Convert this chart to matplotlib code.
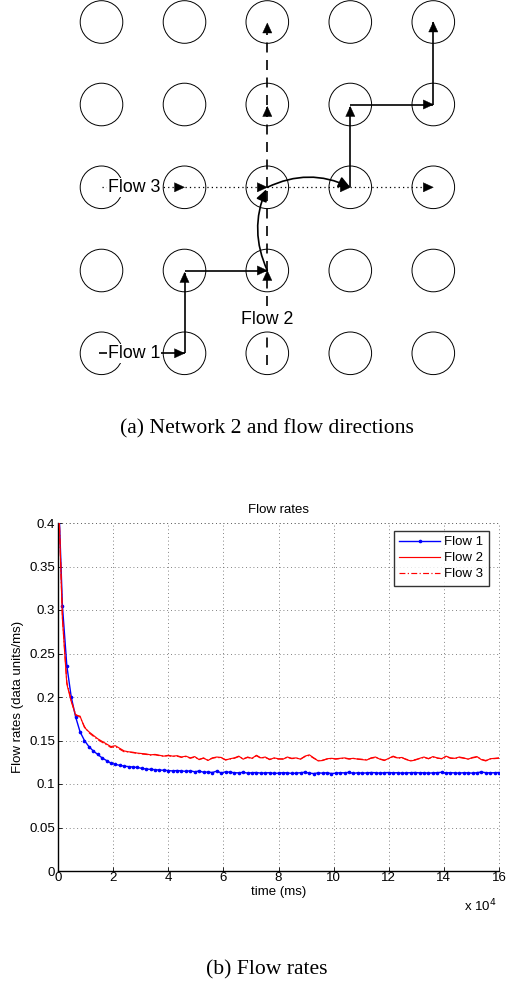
import numpy as np
import matplotlib
matplotlib.use("Agg")
import matplotlib.pyplot as plt
from matplotlib.patches import Circle, Polygon

# ---------------- data ----------------
time_ms = np.arange(0, 160001, 1600)

flow1 = [0.450, 0.305, 0.236, 0.200, 0.177, 0.160, 0.150, 0.143, 0.138, 0.134,
         0.130, 0.127, 0.124, 0.1225, 0.1215, 0.1205, 0.1200, 0.1195, 0.1190, 0.1180,
         0.1172, 0.1168, 0.1165, 0.1160, 0.1158, 0.1155, 0.1150, 0.1155, 0.1150, 0.1145,
         0.1152, 0.1140, 0.1150, 0.1135, 0.1138, 0.1132, 0.1148, 0.1128, 0.1140, 0.1135,
         0.1130, 0.1128, 0.1135, 0.1125, 0.1130, 0.1132, 0.1125, 0.1128, 0.1130, 0.1122,
         0.1125, 0.1130, 0.1128, 0.1122, 0.1125, 0.1130, 0.1135, 0.1125, 0.1120, 0.1128,
         0.1125, 0.1130, 0.1120, 0.1125, 0.1130, 0.1128, 0.1135, 0.1122, 0.1130, 0.1125,
         0.1128, 0.1132, 0.1130, 0.1125, 0.1130, 0.1132, 0.1128, 0.1130, 0.1125, 0.1128,
         0.1130, 0.1132, 0.1128, 0.1130, 0.1125, 0.1128, 0.1130, 0.1135, 0.1128, 0.1130,
         0.1128, 0.1125, 0.1130, 0.1128, 0.1125, 0.1130, 0.1138, 0.1130, 0.1128, 0.1130,
         0.1132]

flow2 = [0.450, 0.290, 0.215, 0.195, 0.179, 0.178, 0.165, 0.160, 0.156, 0.152,
         0.149, 0.146, 0.143, 0.144, 0.141, 0.138, 0.137, 0.1365, 0.1355, 0.1350,
         0.1345, 0.1335, 0.1340, 0.1330, 0.1320, 0.1330, 0.1320, 0.1325, 0.1310, 0.1320,
         0.1300, 0.1315, 0.1280, 0.1300, 0.1270, 0.1300, 0.1310, 0.1305, 0.1275, 0.1290,
         0.1300, 0.1320, 0.1285, 0.1310, 0.1295, 0.1330, 0.1300, 0.1310, 0.1280, 0.1300,
         0.1290, 0.1285, 0.1310, 0.1295, 0.1300, 0.1285, 0.1320, 0.1335, 0.1300, 0.1265,
         0.1270, 0.1290, 0.1295, 0.1290, 0.1295, 0.1300, 0.1290, 0.1295, 0.1285, 0.1280,
         0.1275, 0.1300, 0.1310, 0.1285, 0.1270, 0.1295, 0.1320, 0.1300, 0.1305, 0.1280,
         0.1265, 0.1275, 0.1295, 0.1310, 0.1290, 0.1315, 0.1300, 0.1290, 0.1320, 0.1300,
         0.1295, 0.1310, 0.1300, 0.1285, 0.1305, 0.1315, 0.1280, 0.1265, 0.1290, 0.1295,
         0.1300]

flow3 = [0.450, 0.292, 0.217, 0.196, 0.180, 0.177, 0.166, 0.159, 0.155, 0.151,
         0.148, 0.145, 0.142, 0.143, 0.140, 0.137, 0.1368, 0.1360, 0.1352, 0.1345,
         0.1340, 0.1332, 0.1336, 0.1326, 0.1318, 0.1326, 0.1316, 0.1320, 0.1306, 0.1316,
         0.1296, 0.1310, 0.1284, 0.1296, 0.1275, 0.1296, 0.1306, 0.1300, 0.1280, 0.1286,
         0.1296, 0.1315, 0.1290, 0.1305, 0.1292, 0.1325, 0.1296, 0.1305, 0.1284, 0.1296,
         0.1286, 0.1290, 0.1305, 0.1292, 0.1296, 0.1288, 0.1315, 0.1328, 0.1296, 0.1270,
         0.1274, 0.1286, 0.1292, 0.1286, 0.1292, 0.1296, 0.1286, 0.1292, 0.1288, 0.1284,
         0.1280, 0.1296, 0.1305, 0.1288, 0.1275, 0.1292, 0.1315, 0.1296, 0.1300, 0.1284,
         0.1270, 0.1280, 0.1292, 0.1305, 0.1292, 0.1310, 0.1296, 0.1292, 0.1315, 0.1296,
         0.1292, 0.1305, 0.1296, 0.1288, 0.1300, 0.1310, 0.1284, 0.1270, 0.1288, 0.1292,
         0.1296]

series_labels = ["Flow 1", "Flow 2", "Flow 3"]
ytick_vals = [0, 0.05, 0.1, 0.15, 0.2, 0.25, 0.3, 0.35, 0.4]
ytick_labels = ["0", "0.05", "0.1", "0.15", "0.2", "0.25", "0.3", "0.35", "0.4"]
xtick_vals = [0, 2, 4, 6, 8, 10, 12, 14, 16]
xtick_labels = ["0", "2", "4", "6", "8", "10", "12", "14", "16"]

SANS = ["Liberation Sans", "DejaVu Sans"]
SERIF = ["Liberation Serif", "DejaVu Serif"]

W, H = 508, 983
fig = plt.figure(figsize=(W / 100, H / 100), dpi=100)

# ---------------- (a) network diagram ----------------
TOP_H = 440
axn = fig.add_axes([0, 1 - TOP_H / H, 1, TOP_H / H])
axn.set_xlim(0, W)
axn.set_ylim(TOP_H, 0)
axn.axis("off")

cols = [101.5, 184.5, 267.3, 350.3, 433.3]
rows = [22, 104.5, 187.3, 270.5, 353.3]
R = 21.3
for cy in rows:
    for cx in cols:
        axn.add_patch(Circle((cx, cy), R, fill=False, ec="black", lw=0.7, zorder=1))


def head(xt, yt, dx, dy, L=10.0, Wd=4.6):
    n = np.hypot(dx, dy)
    ux, uy = dx / n, dy / n
    px, py = -uy, ux
    bx, by = xt - ux * L, yt - uy * L
    axn.add_patch(Polygon([[xt, yt], [bx + px * Wd, by + py * Wd], [bx - px * Wd, by - py * Wd]],
                          closed=True, fc="black", ec="black", lw=0.3, zorder=5))


def seg(p0, p1, ls="-", lw=1.2, arrow=True):
    axn.plot([p0[0], p1[0]], [p0[1], p1[1]], color="black", lw=lw, ls=ls, zorder=3,
             solid_capstyle="butt", dash_capstyle="butt")
    if arrow:
        head(p1[0], p1[1], p1[0] - p0[0], p1[1] - p0[1])


def arc(p0, p1, rad):
    axn.annotate("", xy=p1, xytext=p0,
                 arrowprops=dict(arrowstyle="-|>,head_length=0.7,head_width=0.33",
                                 mutation_scale=10, color="black", lw=1.2,
                                 shrinkA=0, shrinkB=0,
                                 connectionstyle="arc3,rad=%f" % rad), zorder=5)

c0, c1, c2, c3, c4 = cols
r0, r1, r2, r3, r4 = rows

# Flow 3 (dotted)
dot = (0, (1, 2.5))
seg((c0, r2), (c1, r2), ls=dot, lw=0.9)
seg((c1, r2), (c2, r2), ls=dot, lw=0.9)
seg((c2, r2), (c3, r2), ls=dot, lw=0.9)
seg((c3, r2), (c4, r2), ls=dot, lw=0.9)

# Flow 2 (dashed)
dash = (0, (6, 4.5))
seg((c2, r4 + 12), (c2, r4 - 18), ls=dash, arrow=False)
seg((c2, 306), (c2, r3), ls=dash)
seg((c2, r3), (c2, r2), ls=dash, arrow=False)
seg((c2, r2), (c2, r1 + 2), ls=dash)
seg((c2, r1), (c2, r0 + 1), ls=dash)

# Flow 1 (solid)
seg((99, r4), (c1, r4))
seg((c1, r4), (c1, r3 + 2))
seg((c1, r3), (c2, r3))
arc((c2, r3), (c2 - 1, r2 + 2), -0.22)
arc((c2, r2), (c3, r2), -0.24)
seg((c3, r2), (c3, r1 + 2))
seg((c3, r1), (c4, r1))
seg((c4, r1), (c4, r0))

lab_kw = dict(fontsize=12.8, family=SANS, va="center", zorder=4,
              bbox=dict(boxstyle="square,pad=0.05", fc="white", ec="none"))
axn.text(134, r4, "Flow 1", ha="center", **lab_kw)
axn.text(c2, 320, "Flow 2", ha="center", **lab_kw)
axn.text(134, r2, "Flow 3", ha="center", **lab_kw)

fig.text(266.5 / W, 1 - 429 / H, "(a) Network 2 and flow directions",
         ha="center", va="center", fontsize=15.6, family=SERIF)

# ---------------- (b) flow rates chart ----------------
L_, R_, T_, B_ = 58, 499, 523, 871
ax = fig.add_axes([L_ / W, 1 - B_ / H, (R_ - L_) / W, (B_ - T_) / H])
x = time_ms / 1e4
ax.plot(x, flow1, color="blue", lw=1.0, marker=".", ms=3.2, label=series_labels[0], zorder=3)
ax.plot(x, flow2, color="red", lw=0.85, ls="-", label=series_labels[1], zorder=4)
ax.plot(x, flow3, color="red", lw=0.85, ls=(0, (5, 2, 1, 2)), label=series_labels[2], zorder=4)

ax.set_xlim(0, 16)
ax.set_ylim(0, 0.4)
ax.set_xticks(xtick_vals)
ax.set_xticklabels(xtick_labels, family=SANS, fontsize=9.5)
ax.set_yticks(ytick_vals)
ax.set_yticklabels(ytick_labels, family=SANS, fontsize=9.5)
ax.tick_params(direction="in", length=3, width=0.6, pad=2)
ax.tick_params(axis="x", pad=1.0)
for s in ["top", "right"]:
    ax.spines[s].set_visible(False)
for s in ["left", "bottom"]:
    ax.spines[s].set_linewidth(1.0)
ax.grid(True, color="0.35", ls=(0, (1, 3.5)), lw=0.6)
ax.axhline(0.4, color="0.35", ls=(0, (1, 3.5)), lw=0.6, clip_on=False)
ax.axvline(16, color="0.35", ls=(0, (1, 3.5)), lw=0.6, clip_on=False)

ax.set_title("Flow rates", family=SANS, fontsize=9.5, pad=7)
ax.set_xlabel("time (ms)", family=SANS, fontsize=9.5, labelpad=1)
ax.set_ylabel("Flow rates (data units/ms)", family=SANS, fontsize=9.5, labelpad=4)
fig.text(480 / W, 1 - 906 / H, r"x 10$^{4}$", ha="center", va="center",
         family=SANS, fontsize=9.5)

leg = ax.legend(loc="upper right", bbox_to_anchor=(1.0 - 10 / 441, 1 - 7.5 / 348),
                prop=dict(family=SANS, size=9.5), frameon=True, fancybox=False,
                handlelength=3.1, handletextpad=0.3, labelspacing=0.28,
                borderpad=0.42, borderaxespad=0)
leg.get_frame().set_edgecolor("black")
leg.get_frame().set_linewidth(1.0)

fig.text(267 / W, 1 - 970 / H, "(b) Flow rates", ha="center", va="center",
         fontsize=15.6, family=SERIF)

fig.savefig("out.png", dpi=100)
